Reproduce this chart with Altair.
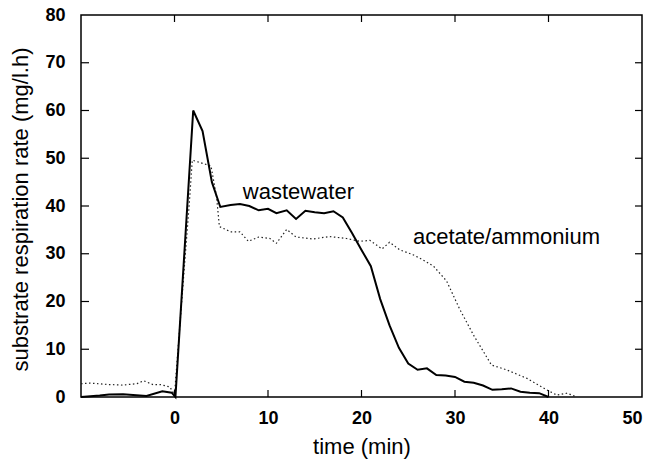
import altair as alt
import pandas as pd

# wastewater (solid)
ww_t = [-10, -8, -7, -5.5, -3, -1.3, -0.3, 0.1, 2, 3, 4, 4.9, 6, 7, 8, 9, 10, 10.9, 12, 13,
        14, 15, 16, 17, 18, 19, 20, 21, 22, 23, 24, 25, 26, 27, 28, 29, 30, 31, 32, 33,
        34, 35, 36, 37, 38, 39, 40]
ww_v = [0, 0.3, 0.5, 0.6, 0.2, 1.2, 0.9, 0, 60, 55.7, 45, 39.8, 40.2, 40.4, 40, 39.1, 39.4, 38.5, 39.1, 37.3,
        39, 38.7, 38.5, 38.9, 37.6, 34.3, 30.8, 27.4, 20.5, 15, 10.3, 7, 5.7, 6.0, 4.6, 4.5, 4.2, 3.2, 3.0, 2.4,
        1.5, 1.6, 1.8, 1.1, 0.9, 0.8, 0]

# acetate/ammonium (dotted)
ac_t = [-10, -9, -7, -5.5, -4, -3.3, -2.3, -1.5, -0.5, 0, 1.6, 1.9, 3.9, 4.5, 4.8, 6, 7, 7.9, 9, 10.2,
        10.9, 12, 13, 14.8, 16.6, 18.4, 19.8, 20.9, 22.2, 23, 24.1, 25.5, 26.5, 27.7, 29.1, 30.5, 32, 33.9,
        35.5, 37.7, 39.8, 40.9, 42, 43]
ac_v = [2.8, 2.9, 2.6, 2.5, 2.8, 3.4, 2.6, 2.6, 2.1, 0.5, 41, 49.6, 48.4, 41.9, 35.7, 34.6, 34.6, 32.6, 33.5, 33.2,
        32.2, 35.1, 33.5, 33.1, 33.6, 33.2, 32.6, 32.8, 31, 32.4, 30.8, 29.8, 28.8, 27.4, 24.3, 18.4, 12.9, 6.7,
        5.7, 3.9, 1.5, 0.4, 0.8, 0]

label_text = ["wastewater", "acetate/ammonium"]
label_t = [7.3, 25.5]
label_v = [43.0, 33.5]

x_ticks = [0, 10, 20, 30, 40, 50]
y_ticks = [0, 10, 20, 30, 40, 50, 60, 70, 80]
x_inner = [0, 10, 20, 30, 40]
y_inner = [10, 20, 30, 40, 50, 60, 70]

W, H = 561, 382
FONT = "Liberation Sans"

xs = alt.Scale(domain=[-10, 50], nice=False, zero=False)
ys = alt.Scale(domain=[0, 80], nice=False)

ww = pd.DataFrame({"t": ww_t, "v": ww_v})
ac = pd.DataFrame({"t": ac_t, "v": ac_v})
lab = pd.DataFrame({"text": label_text, "t": label_t, "v": label_v})
xi = pd.DataFrame({"t": x_inner})
yi = pd.DataFrame({"v": y_inner})

xaxis = alt.Axis(values=x_ticks, title="time (min)", grid=False, domain=False, ticks=False,
                 labelFontSize=18, labelFontWeight="bold", labelPadding=12, labelFont=FONT,
                 labelColor="black",
                 titleFont=FONT, titleFontSize=22, titleFontWeight="normal", titleColor="black",
                 titleY=49, titleBaseline="middle")
yaxis = alt.Axis(values=y_ticks, title="substrate respiration rate (mg/l.h)", grid=False, domain=False,
                 ticks=False, labelFontSize=18, labelFontWeight="bold", labelPadding=16, labelFont=FONT,
                 labelColor="black",
                 titleFont=FONT, titleFontSize=22, titleFontWeight="normal", titleColor="black",
                 titleX=-61, titleY=H / 2 + 3, titleAngle=270, titleAlign="center", titleBaseline="middle")

line_ac = alt.Chart(ac).mark_line(color="#222", strokeWidth=1.2, strokeDash=[1.5, 2.5]).encode(
    x=alt.X("t:Q", scale=xs, axis=xaxis), y=alt.Y("v:Q", scale=ys, axis=yaxis))
line_ww = alt.Chart(ww).mark_line(color="black", strokeWidth=2).encode(
    x=alt.X("t:Q", scale=xs), y=alt.Y("v:Q", scale=ys))
texts = alt.Chart(lab).mark_text(align="left", baseline="middle", font=FONT, fontSize=22,
                                 color="black").encode(
    x=alt.X("t:Q", scale=xs), y=alt.Y("v:Q", scale=ys), text="text:N")

tk = dict(color="black", strokeWidth=1.2)
bt = alt.Chart(xi).mark_rule(**tk).encode(x=alt.X("t:Q", scale=xs), y=alt.value(H), y2=alt.value(H - 7))
tt = alt.Chart(xi).mark_rule(**tk).encode(x=alt.X("t:Q", scale=xs), y=alt.value(0), y2=alt.value(7))
lt = alt.Chart(yi).mark_rule(**tk).encode(y=alt.Y("v:Q", scale=ys), x=alt.value(0), x2=alt.value(8))
rt = alt.Chart(yi).mark_rule(**tk).encode(y=alt.Y("v:Q", scale=ys), x=alt.value(W), x2=alt.value(W - 7))

chart = alt.layer(line_ac, line_ww, texts, bt, tt, lt, rt).properties(
    width=W, height=H,
    autosize=alt.AutoSizeParams(type="none"),
    padding={"left": 81, "top": 15, "right": 14, "bottom": 64},
    background="white",
).configure_view(stroke="black", strokeWidth=1.5)

chart.save("out.html", embed_options={"renderer": "svg", "actions": False})
